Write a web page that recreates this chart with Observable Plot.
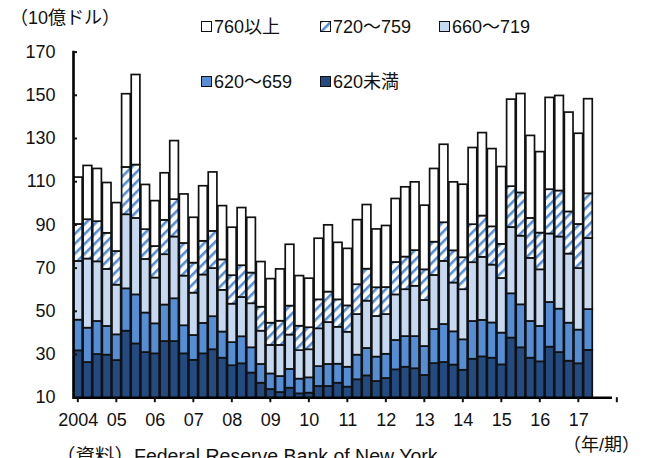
<!DOCTYPE html>
<html>
<head>
<meta charset="utf-8">
<script src="https://cdn.jsdelivr.net/npm/d3@7"></script>
<script src="https://cdn.jsdelivr.net/npm/@observablehq/plot@0.6"></script>
<style>
  html, body { margin: 0; padding: 0; background: #fff; }
  #wrap { position: relative; width: 650px; height: 458px; overflow: hidden;
          font-family: "Liberation Sans", "Noto Sans CJK JP", sans-serif; color: #111; }
  .lbl { position: absolute; font-size: 18px; line-height: 20px; white-space: nowrap; }
  .sw { display: inline-block; vertical-align: middle; margin-right: 2px; position: relative; top: -2px; }
</style>
</head>
<body>
<div id="wrap"></div>
<script>
// ---- data (10億ドル), quarterly 2004Q1–2017Q2 ----
const years = [2004,2005,2006,2007,2008,2009,2010,2011,2012,2013,2014,2015,2016,2017];
const yearLabels = ["2004","05","06","07","08","09","10","11","12","13","14","15","16","17"];
const quarterNames = ["Q1","Q2","Q3","Q4"];
const yTicks = [10,30,50,70,90,110,130,150,170];

const seriesNames = ["620未満","620～659","660～719","720～759","760以上"];

const below620 = [31.7,26.3,30.0,29.7, 27.2,40.8,34.9,30.9, 30.3,36.0,36.0,30.3, 27.3,30.3,32.2,28.3,
  24.8,25.7,21.4,16.7, 13.8,12.4,14.4,11.8, 12.1,15.2,15.2,16.7, 14.9,18.3,20.1,17.5,
  18.9,22.9,24.1,23.4, 20.3,25.8,26.3,25.1, 22.7,27.8,28.9,28.3, 25.2,37.6,33.1,28.3,
  26.6,33.4,30.9,26.9, 25.7,31.9];
const s620_659 = [14.2,15.9,15.3,13.3, 11.9,19.6,22.7,18.3, 13.9,16.9,19.8,13.0, 11.5,14.1,15.3,12.1,
  10.7,12.5,11.7,8.7, 7.2,7.4,8.7,6.8, 7.1,9.2,10.2,8.8, 9.2,11.4,12.7,11.3,
  11.2,13.6,14.2,14.9, 13.4,15.8,17.6,15.4, 14.1,17.5,16.9,16.3, 14.7,20.5,19.9,17.0,
  16.4,20.7,20.1,17.6, 15.6,18.9];
const s660_719 = [27.2,32.0,27.6,26.4, 23.0,34.3,35.4,24.8, 21.2,23.3,28.6,23.0, 19.6,22.4,22.3,19.3,
  17.8,18.2,20.4,15.4, 13.2,14.4,15.9,13.2, 13.0,17.5,19.4,17.1, 16.2,18.8,21.9,18.8,
  18.4,21.1,21.7,23.3, 21.3,25.0,29.2,22.6, 23.2,27.2,29.2,26.8, 25.3,30.7,31.8,29.2,
  26.2,31.7,33.4,32.0, 28.5,32.9];
const s720_759 = [17.1,18.2,18.6,16.7, 15.6,21.9,24.7,13.8, 14.6,15.9,17.3,15.1, 13.9,15.6,17.2,14.1,
  13.2,14.7,14.2,11.1, 10.3,11.2,13.4,11.3, 10.2,13.4,14.1,12.7, 12.2,13.8,14.8,13.3,
  12.5,15.0,15.1,16.5, 14.2,15.4,17.9,14.9, 14.8,17.6,19.1,17.7, 15.8,18.9,20.0,18.5,
  17.0,20.5,21.3,19.5, 20.4,20.7];
const s760plus = [21.7,24.9,24.4,23.3, 22.4,33.9,41.7,20.7, 21.0,21.8,27.1,22.7, 21.0,25.5,27.3,24.9,
  22.2,26.7,25.6,20.9, 20.4,24.0,28.4,23.2, 22.7,28.3,30.9,26.4, 26.4,29.9,29.7,27.0,
  28.5,29.4,32.3,31.6, 29.7,33.9,36.1,31.7, 33.8,35.5,38.4,36.0, 35.8,40.3,45.8,38.2,
  37.5,42.5,44.0,46.0, 42.0,43.8];

const seriesColors = ["#234b82", "#558ed5", "#c6d9f1", "url(#hatch)", "#ffffff"];

// ---- build table ----
const quarters = years.flatMap(y => quarterNames.map(q => `${y}${q}`));
const firstQuarters = years.map(y => `${y}Q1`);
const labelOf = Object.fromEntries(years.map((y, i) => [`${y}Q1`, yearLabels[i]]));
const seriesValues = [below620, s620_659, s660_719, s720_759, s760plus];
const rows = [];
seriesValues.forEach((vals, si) => vals.forEach((v, i) => rows.push({quarter: quarters[i], band: seriesNames[si], value: v})));

// ---- layout ----
const W = 650, H = 458, mL = 73, mR = 38, mT = 51.6, mB = 60.8;
const padIn = 0.1;
const step = (W - mL - mR) / quarters.length;

const chart = Plot.plot({
  width: W, height: H,
  marginLeft: mL, marginRight: mR, marginTop: mT, marginBottom: mB,
  style: {fontFamily: "'Liberation Sans', 'Noto Sans CJK JP', sans-serif", fontSize: "18px", color: "#111", background: "transparent"},
  x: {type: "band", domain: quarters, paddingInner: padIn, paddingOuter: padIn / 2, label: null},
  y: {domain: [10, 170], label: null},
  color: {type: "ordinal", domain: seriesNames, range: seriesColors},
  marks: [
    Plot.barY(rows, {x: "quarter", y: "value", fill: "band", stroke: "#111", strokeWidth: 1.7, clip: true}),
    Plot.ruleY([10], {stroke: "#000", strokeWidth: 2.6}),
    Plot.frame({anchor: "left", stroke: "#000", strokeWidth: 2.6}),
    Plot.axisY({ticks: yTicks, tickSize: 0, tickPadding: 18, label: null}),
    Plot.axisY({ticks: yTicks, tickSize: 4, dx: 4, tickFormat: () => "", strokeWidth: 2, label: null}),
    Plot.axisX({ticks: firstQuarters, tickSize: 0, tickPadding: 16, tickFormat: d => labelOf[d], label: null}),
    Plot.axisX({ticks: firstQuarters, tickSize: 5, dx: -step * padIn / 2, tickFormat: () => "", strokeWidth: 2, label: null}),
    Plot.axisX({ticks: [quarters[quarters.length - 1]], tickSize: 5, dx: step * (1 - padIn / 2), tickFormat: () => "", strokeWidth: 2, label: null})
  ]
});

// hatch pattern for 720～759
const svg = d3.select(chart);
const defs = svg.insert("defs", ":first-child");
const pat = defs.append("pattern").attr("id", "hatch").attr("patternUnits", "userSpaceOnUse")
  .attr("width", 7).attr("height", 7).attr("patternTransform", "rotate(45)");
pat.append("rect").attr("width", 7).attr("height", 7).attr("fill", "#fff");
pat.append("rect").attr("width", 2.6).attr("height", 7).attr("fill", "#558ed5");

const wrap = document.getElementById("wrap");
wrap.appendChild(chart);
chart.style.position = "absolute"; chart.style.left = "0"; chart.style.top = "0";

function addLabel(text, left, top, extra) {
  const d = document.createElement("div");
  d.className = "lbl";
  d.style.left = left + "px"; d.style.top = top + "px";
  if (extra) Object.assign(d.style, extra);
  d.innerHTML = text;
  wrap.appendChild(d);
  return d;
}
function swatch(fill) {
  return `<svg class="sw" width="11" height="11"><rect x="0.5" y="0.5" width="10" height="10" fill="${fill}" stroke="#111" stroke-width="1"/></svg>`;
}
addLabel("（10億ドル）", 10, 8);
addLabel("（年/期）", 563, 435);
addLabel("（資料）Federal Reserve Bank of New York", 56, 446, {fontSize: "19.5px"});
const legendPos = [[201, 17], [320, 17], [439, 17], [201, 72], [320, 72]];
const legendOrder = [4, 3, 2, 1, 0];
legendOrder.forEach((si, k) => {
  addLabel(swatch(seriesColors[si]) + seriesNames[si], legendPos[k][0], legendPos[k][1]);
});
</script>
</body>
</html>
